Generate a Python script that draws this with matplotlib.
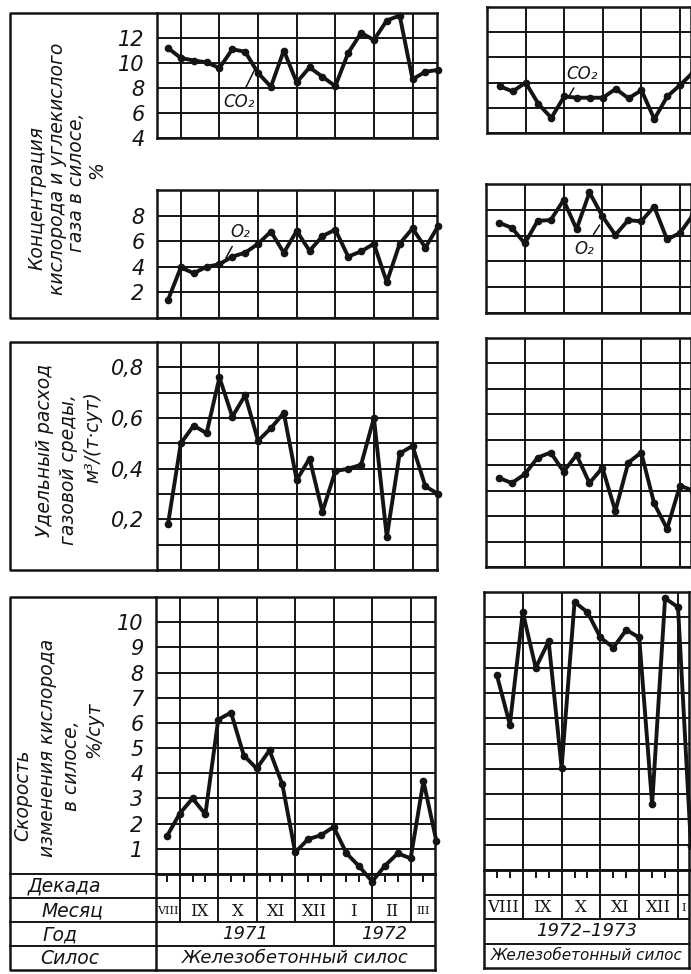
import matplotlib.pyplot as plt

# dekads counted from 1 August of the first year
dekads_71 = [2, 3, 4, 5, 6, 7, 8, 9, 10, 11, 12, 13, 14, 15, 16, 17, 18, 19, 20, 21, 22, 23]
dekads_72 = [1, 2, 3, 4, 5, 6, 7, 8, 9, 10, 11, 12, 13, 14, 15, 16]

# 1971-1972 silo
co2_71 = [11.2, 10.4, 10.2, 10.05, 9.6, 11.1, 10.9, 9.2, 8.1, 11.0, 8.45,
          9.65, 8.9, 8.15, 10.8, 12.4, 11.85, 13.4, 13.8, 8.7, 9.3, 9.45]
o2_71 = [1.4, 3.95, 3.5, 4.0, 4.2, 4.8, 5.1, 5.8, 6.75, 5.1, 6.8,
         5.25, 6.4, 6.9, 4.8, 5.2, 5.8, 2.8, 5.8, 7.0, 5.5, 7.2]
gas_71 = [0.18, 0.50, 0.57, 0.54, 0.76, 0.605, 0.69, 0.51, 0.56, 0.62, 0.355,
          0.44, 0.23, 0.39, 0.40, 0.415, 0.60, 0.13, 0.46, 0.49, 0.33, 0.30]
rate_71 = [1.5, 2.4, 3.0, 2.37, 6.13, 6.41, 4.7, 4.19, 4.91, 3.56, 0.86,
           1.38, 1.54, 1.87, 0.82, 0.30, -0.30, 0.33, 0.82, 0.62, 3.69, 1.32]

# 1972-1973 silo
co2_72 = [7.7, 7.3, 8.0, 6.3, 5.2, 6.9, 6.8, 6.8, 6.8, 7.5, 6.75, 7.4, 5.1, 6.9, 7.8, 8.8]
o2_72 = [7.0, 6.6, 5.4, 7.15, 7.2, 8.75, 6.5, 9.35, 7.5, 6.05, 7.2, 7.1, 8.25, 5.7, 6.2, 7.6]
gas_72 = [0.35, 0.33, 0.365, 0.43, 0.45, 0.375, 0.44, 0.33, 0.39, 0.22, 0.41,
          0.45, 0.25, 0.15, 0.32, 0.30]
rate_72 = [7.7, 5.75, 10.2, 8.0, 9.05, 4.05, 10.6, 10.2, 9.2, 8.8, 9.5,
           9.2, 2.6, 10.75, 10.4, 0.95]

months_71 = ["VIII", "IX", "X", "XI", "XII", "I", "II", "III"]
months_72 = ["VIII", "IX", "X", "XI", "XII", "I"]
month_starts = [0, 3, 6, 9, 12, 15, 18, 21]

co2_ticks = [4, 6, 8, 10, 12]
o2_ticks = [2, 4, 6, 8]
gas_ticks = [0.2, 0.4, 0.6, 0.8]
rate_ticks = [1, 2, 3, 4, 5, 6, 7, 8, 9, 10]

ink = "#141414"
W, H = 691, 974
fig = plt.figure(figsize=(W / 100, H / 100), dpi=100)
fig.patch.set_facecolor("white")

txt = dict(family="DejaVu Sans", style="italic", color=ink)


def px_axes(x0, y0, x1, y1, z=0):
    return fig.add_axes([x0 / W, 1 - y1 / H, (x1 - x0) / W, (y1 - y0) / H], zorder=z)


def grid_panel(ax, xlim, ylim, step, labels, fmt):
    ax.set_xlim(*xlim)
    ax.set_ylim(*ylim)
    ax.set_xticks([m for m in month_starts if xlim[0] < m < xlim[1]])
    n = int(round((ylim[1] - ylim[0]) / step))
    ys = [ylim[0] + i * step for i in range(n + 1)]
    ax.set_yticks(ys)
    lab = []
    for y in ys:
        hit = [t for t in labels if abs(t - y) < 1e-6]
        lab.append(fmt(hit[0]) if hit else "")
    ax.set_yticklabels(lab)
    ax.tick_params(length=0, labelbottom=False, labelsize=15, pad=9, colors=ink)
    for t in ax.get_yticklabels():
        t.set_fontstyle("italic")
    ax.grid(True, color=ink, lw=1.4)
    for s in ax.spines.values():
        s.set_linewidth(1.8)
        s.set_color(ink)


def draw(ax, x, y):
    ax.plot(x, y, color=ink, lw=2.8, marker="o", ms=4.5, mfc=ink, mec=ink,
            clip_on=False, zorder=5)


xl = (1.15, 22.9)
xr = (0.0, 15.85)
int_fmt = lambda v: f"{v:g}"
dec_fmt = lambda v: f"{v:.1f}".replace(".", ",")

# left column of panels
a1 = px_axes(157, 13, 437, 138)
grid_panel(a1, xl, (4, 14), 2, co2_ticks, int_fmt)
draw(a1, dekads_71, co2_71)
a1.annotate("CO₂", xy=(8.8, 9.6), xytext=(7.5, 6.9), fontsize=12, ha="center", va="center",
            arrowprops=dict(arrowstyle="-", color=ink, lw=1.1), **txt)

a2 = px_axes(157, 190, 437, 318)
grid_panel(a2, xl, (0, 10), 2, o2_ticks, int_fmt)
draw(a2, dekads_71, o2_71)
a2.annotate("O₂", xy=(6.4, 4.5), xytext=(7.6, 6.7), fontsize=12, ha="center", va="center",
            arrowprops=dict(arrowstyle="-", color=ink, lw=1.1), **txt)

a3 = px_axes(157, 342, 437, 570)
grid_panel(a3, xl, (0, 0.9), 0.1, gas_ticks, dec_fmt)
draw(a3, dekads_71, gas_71)

a4 = px_axes(156, 597, 435, 874, z=2)
grid_panel(a4, xl, (0, 11), 1, rate_ticks, int_fmt)
a4.patch.set_visible(False)
draw(a4, dekads_71, rate_71)

# right column of panels
b1 = px_axes(487, 7, 691, 133)
grid_panel(b1, xr, (4, 14), 2, [], int_fmt)
draw(b1, dekads_72, co2_72)
b1.annotate("CO₂", xy=(6.3, 6.8), xytext=(7.4, 8.7), fontsize=12, ha="center", va="center",
            arrowprops=dict(arrowstyle="-", color=ink, lw=1.1), **txt)

b2 = px_axes(486, 184, 691, 313)
grid_panel(b2, xr, (0, 10), 2, [], int_fmt)
draw(b2, dekads_72, o2_72)
b2.annotate("O₂", xy=(8.9, 7.0), xytext=(7.6, 5.0), fontsize=12, ha="center", va="center",
            arrowprops=dict(arrowstyle="-", color=ink, lw=1.1), **txt)

b3 = px_axes(486, 338, 691, 567)
grid_panel(b3, xr, (0, 0.9), 0.1, [], dec_fmt)
draw(b3, dekads_72, gas_72)

b4 = px_axes(484, 592, 689, 870, z=2)
grid_panel(b4, xr, (0, 11), 1, [], int_fmt)
b4.patch.set_visible(False)
draw(b4, dekads_72, rate_72)


def table(ax, xlim, months, year_split, years, fs_text):
    ax.set_xlim(*xlim)
    ax.set_ylim(4, 0)
    ax.set_xticks([])
    ax.set_yticks([])
    ax.patch.set_visible(False)
    for s in ax.spines.values():
        s.set_linewidth(1.8)
        s.set_color(ink)
    for r in (1, 2, 3):
        ax.axhline(r, color=ink, lw=1.4)
    inside = [m for m in month_starts if xlim[0] < m < xlim[1]]
    ax.vlines(inside, 0, 2, color=ink, lw=1.4)
    d = 1
    while d < xlim[1]:
        if d % 3 and d > xlim[0]:
            ax.vlines(d, 0, 0.33, color=ink, lw=1.4)
        d += 1
    edges = [xlim[0]] + inside + [xlim[1]]
    for i, name in enumerate(months):
        w = edges[i + 1] - edges[i]
        fs = 12 if w > 2.5 else (8 if w < 2.0 else 10)
        ax.text((edges[i] + edges[i + 1]) / 2, 1.55, name, ha="center", va="center",
                fontsize=fs, family="DejaVu Serif", color=ink)
    if year_split is not None:
        ax.vlines(year_split, 2, 3, color=ink, lw=1.4)
        bounds = [xlim[0], year_split, xlim[1]]
    else:
        bounds = [xlim[0], xlim[1]]
    for i, y in enumerate(years):
        ax.text((bounds[i] + bounds[i + 1]) / 2, 2.5, y, ha="center", va="center",
                fontsize=13, **txt)
    ax.text(sum(xlim) / 2, 3.5, "Железобетонный силос", ha="center", va="center",
            fontsize=fs_text, **txt)


t1 = px_axes(156, 874, 435, 970, z=1)
table(t1, xl, months_71, 15, ["1971", "1972"], 13)
t2 = px_axes(484, 870, 689, 968, z=1)
table(t2, xr, months_72, None, ["1972–1973"], 11)

# label column boxes and texts, in pixel coordinates
frame = fig.add_axes([0, 0, 1, 1], zorder=-1)
frame.set_xlim(0, W)
frame.set_ylim(H, 0)
frame.axis("off")
box_kw = dict(color=ink, lw=1.8)
frame.plot([157, 10, 10, 157], [13, 13, 318, 318], **box_kw)
frame.plot([157, 10, 10, 157], [342, 342, 570, 570], **box_kw)
frame.plot([156, 10, 10, 156], [597, 597, 970, 970], **box_kw)
for yy in (874, 898, 922, 946):
    frame.plot([10, 156], [yy, yy], color=ink, lw=1.4)

side_labels = [
    ("Концентрация", 37, 198), ("кислорода и углекислого", 58, 169),
    ("газа в силосе,", 77, 182), ("%", 97, 170),
    ("Удельный расход", 45, 450), ("газовой среды,", 69, 470), ("м³/(т·сут)", 93, 437),
    ("Скорость", 23, 795), ("изменения кислорода", 48, 748),
    ("в силосе,", 72, 766), ("%/сут", 94, 730),
]
for s, x, y in side_labels:
    frame.text(x, y, s, rotation=90, ha="center", va="center", fontsize=13.5, **txt)

row_labels = [("Декада", 64, 886), ("Месяц", 72, 911), ("Год", 60, 935), ("Силос", 70, 959)]
for s, x, y in row_labels:
    frame.text(x, y, s, ha="center", va="center", fontsize=13.5, **txt)

fig.savefig("out.png", dpi=100, facecolor="white")
